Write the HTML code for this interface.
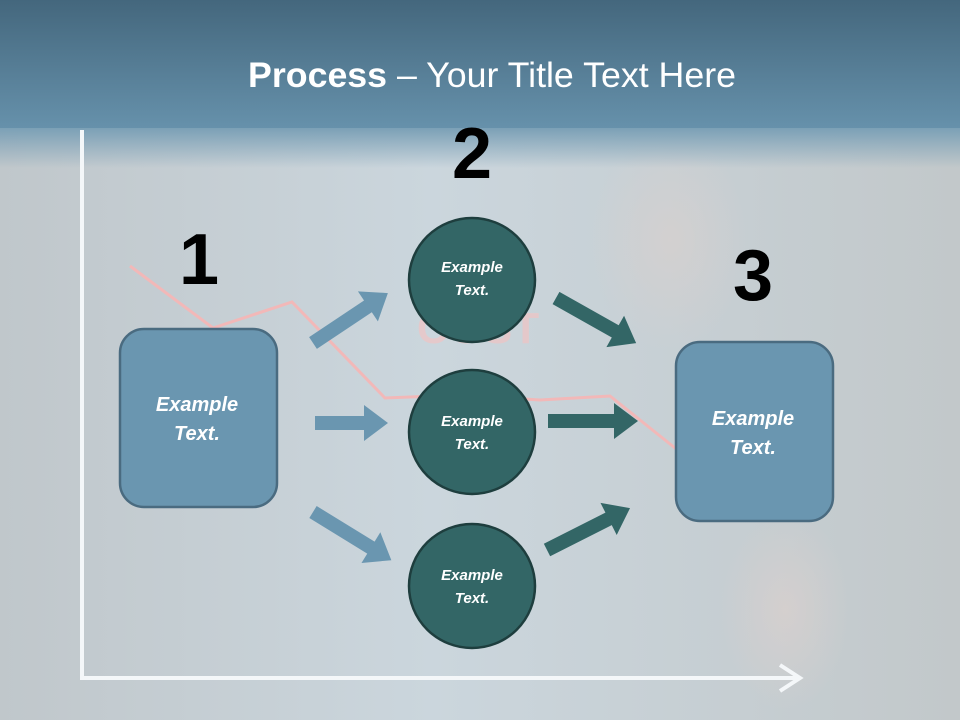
<!DOCTYPE html>
<html><head><meta charset="utf-8"><style>
html,body{margin:0;padding:0;width:960px;height:720px;overflow:hidden}
svg{display:block}
text{font-family:"Liberation Sans",sans-serif}
</style></head><body>
<svg width="960" height="720" viewBox="0 0 960 720" xmlns="http://www.w3.org/2000/svg">
<defs>
<linearGradient id="hd" x1="0" y1="0" x2="0" y2="1">
<stop offset="0" stop-color="#44677d"/><stop offset="1" stop-color="#6691ab"/>
</linearGradient>
<linearGradient id="bd" x1="0" y1="0" x2="1" y2="0">
<stop offset="0" stop-color="#c0c7cb"/><stop offset="0.45" stop-color="#cbd6dd"/><stop offset="1" stop-color="#c2c8ca"/>
</linearGradient>
<linearGradient id="fade" x1="0" y1="0" x2="0" y2="1">
<stop offset="0" stop-color="#7ba0b6"/><stop offset="1" stop-color="#7ba0b6" stop-opacity="0"/>
</linearGradient>
<radialGradient id="face" cx="0.5" cy="0.5" r="0.5">
<stop offset="0" stop-color="#d8d0ce"/><stop offset="1" stop-color="#d8d0ce" stop-opacity="0"/>
</radialGradient>
</defs>
<rect width="960" height="720" fill="url(#bd)"/>
<ellipse cx="670" cy="240" rx="80" ry="110" fill="url(#face)" opacity="0.7"/>
<ellipse cx="785" cy="610" rx="65" ry="100" fill="url(#face)" opacity="0.8"/>
<rect x="0" y="128" width="960" height="40" fill="url(#fade)"/>
<rect width="960" height="128" fill="url(#hd)"/>
<text x="492" y="87" text-anchor="middle" font-size="35" fill="#fff" textLength="488" lengthAdjust="spacingAndGlyphs"><tspan font-weight="bold">Process</tspan> – Your Title Text Here</text>
<path d="M82 130 V678 H800" stroke="#f4f7f9" stroke-width="4" fill="none"/>
<path d="M780 665 L800 678 L780 691" stroke="#f4f7f9" stroke-width="4" fill="none"/>
<polyline points="130,266 213,328 292,302 385,398 460,395 540,400 610,396 690,460" stroke="#f2b8b8" stroke-width="3" fill="none"/>
<text x="478" y="343" text-anchor="middle" font-size="44" font-weight="bold" fill="#f0c4c4" opacity="0.7">COST</text>
<text x="199" y="284" text-anchor="middle" font-size="72" font-weight="bold" fill="#000">1</text>
<text x="472" y="178" text-anchor="middle" font-size="72" font-weight="bold" fill="#000">2</text>
<text x="753" y="300" text-anchor="middle" font-size="72" font-weight="bold" fill="#000">3</text>
<g fill="#6a96b0">
<polygon transform="translate(313,343) rotate(-33.7)" points="0,-7 66,-7 66,-18 90,0 66,18 66,7 0,7"/>
<polygon transform="translate(315,423)" points="0,-7 49,-7 49,-18 73,0 49,18 49,7 0,7"/>
<polygon transform="translate(313,512) rotate(31.6)" points="0,-7 68,-7 68,-18 92,0 68,18 68,7 0,7"/>
</g>
<g fill="#336666">
<polygon transform="translate(556,298) rotate(29.4)" points="0,-7 68,-7 68,-18 92,0 68,18 68,7 0,7"/>
<polygon transform="translate(548,421)" points="0,-7 66,-7 66,-18 90,0 66,18 66,7 0,7"/>
<polygon transform="translate(547,550) rotate(-26.8)" points="0,-7 69,-7 69,-18 93,0 69,18 69,7 0,7"/>
</g>
<rect x="120" y="329" width="157" height="178" rx="24" fill="#6a96b0" stroke="#4a6b80" stroke-width="2.5"/>
<rect x="676" y="342" width="157" height="179" rx="24" fill="#6a96b0" stroke="#4a6b80" stroke-width="2.5"/>
<g font-size="20" font-weight="bold" font-style="italic" fill="#fff" text-anchor="middle">
<text x="197" y="411">Example</text><text x="197" y="440">Text.</text>
<text x="753" y="425">Example</text><text x="753" y="454">Text.</text>
</g>
<g fill="#336666" stroke="#1e3e3e" stroke-width="2.5">
<ellipse cx="472" cy="280" rx="63" ry="62"/>
<ellipse cx="472" cy="432" rx="63" ry="62"/>
<ellipse cx="472" cy="586" rx="63" ry="62"/>
</g>
<g font-size="15" font-weight="bold" font-style="italic" fill="#fff" text-anchor="middle">
<text x="472" y="272">Example</text><text x="472" y="295">Text.</text>
<text x="472" y="426">Example</text><text x="472" y="449">Text.</text>
<text x="472" y="580">Example</text><text x="472" y="603">Text.</text>
</g>
</svg>
</body></html>
